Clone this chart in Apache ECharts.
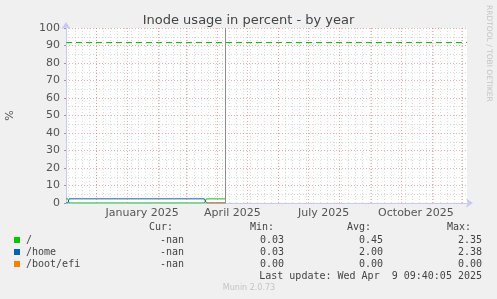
<!DOCTYPE html>
<html><head><meta charset="utf-8">
<script src="https://cdn.jsdelivr.net/npm/echarts@6/dist/echarts.min.js"></script>
<style>html,body{margin:0;padding:0;background:#f0f0f0}#c{width:497px;height:299px}</style>
</head><body><div id="c"></div>
<script>
// ---- data ----
const chartTitle = 'Inode usage in percent - by year';
const seriesNames = ['/', '/home', '/boot/efi'];
const seriesColors = ['#00cc00', '#0066b3', '#ff8000'];
const rootData = [['2024-11-01', 2.35], ['2024-11-03', 2.35], ['2024-11-04', 0.03], ['2025-03-19', 0.03], ['2025-03-21', 2.35], ['2025-04-09', 2.35]];
const homeData = [['2024-11-01', 0.03], ['2024-11-03', 0.03], ['2024-11-04', 2.38], ['2025-03-19', 2.38], ['2025-03-21', 0.03], ['2025-04-09', 0.03]];
const bootData = [['2025-03-21', 0], ['2025-04-09', 0]];
const warningLevel = 92;
const lastUpdateDate = '2025-04-09';
const xMin = '2024-11-01';
const xMax = '2025-12-06';
const yMin = 0, yMax = 100, yStep = 10;
const xTickLabels = [['2025-01-16', 'January 2025'], ['2025-04-16', 'April 2025'], ['2025-07-16', 'July 2025'], ['2025-10-16', 'October 2025']];
const curVals = ['-nan', '-nan', '-nan'];
const minVals = ['0.03', '0.03', '0.00'];
const avgVals = ['0.45', '2.00', '0.00'];
const maxVals = ['2.35', '2.38', '0.00'];
const lastUpdate = 'Last update: Wed Apr  9 09:40:05 2025';
const footer = 'Munin 2.0.73';
const sideText = 'RRDTOOL / TOBI OETIKER';

// ---- helpers ----
function ts(s) { const p = s.split('-').map(Number); return new Date(p[0], p[1] - 1, p[2]).getTime(); }
const conv = arr => arr.map(p => [ts(p[0]), p[1]]);
const tMin = ts(xMin), tMax = ts(xMax);

// grid lines: month starts (red) and Sundays (gray)
const monthLines = [], weekLines = [];
{
  const d = new Date(tMin);
  let m = new Date(d.getFullYear(), d.getMonth(), 1);
  while (m.getTime() <= tMax) {
    if (m.getTime() > tMin) monthLines.push({ xAxis: m.getTime() });
    m = new Date(m.getFullYear(), m.getMonth() + 1, 1);
  }
  let w = new Date(d.getFullYear(), d.getMonth(), d.getDate());
  while (w.getDay() !== 0) w = new Date(w.getFullYear(), w.getMonth(), w.getDate() + 1);
  while (w.getTime() < tMax) {
    weekLines.push({ xAxis: w.getTime() });
    w = new Date(w.getFullYear(), w.getMonth(), w.getDate() + 7);
  }
}
const labelMap = {};
xTickLabels.forEach(p => { labelMap[ts(p[0])] = p[1]; });

const chart = echarts.init(document.getElementById('c'), null, { renderer: 'canvas' });
const mono = 'DejaVu Sans Mono';
const txtColor = '#444';
const legendGraphics = [];
const headerY = 227, rowY = [240, 252, 264], lastY = 276;
[['Cur:', 149], ['Min:', 250], ['Avg:', 347], ['Max:', 447]].forEach(h => {
  legendGraphics.push({ type: 'text', x: h[1], y: headerY, style: { text: h[0], font: '10px ' + mono, fill: txtColor, textVerticalAlign: 'middle' } });
});
seriesNames.forEach((n, i) => {
  legendGraphics.push({ type: 'rect', shape: { x: 14, y: rowY[i] - 3, width: 6, height: 6 }, style: { fill: seriesColors[i] } });
  legendGraphics.push({ type: 'text', x: 26, y: rowY[i], style: { text: n, font: '10px ' + mono, fill: txtColor, textVerticalAlign: 'middle' } });
  [[curVals, 184], [minVals, 284], [avgVals, 383], [maxVals, 482]].forEach(c => {
    legendGraphics.push({ type: 'text', x: c[1], y: rowY[i], style: { text: c[0][i], font: '10px ' + mono, fill: txtColor, textAlign: 'right', textVerticalAlign: 'middle' } });
  });
});
legendGraphics.push({ type: 'text', x: 482, y: lastY, style: { text: lastUpdate, font: '10px ' + mono, fill: txtColor, textAlign: 'right', textVerticalAlign: 'middle' } });
legendGraphics.push({ type: 'text', x: 249, y: 288, style: { text: footer, font: '8px DejaVu Sans', fill: '#c4c4c4', textAlign: 'center', textVerticalAlign: 'middle' } });
legendGraphics.push({ type: 'text', x: 489, y: 5, rotation: -Math.PI / 2, style: { text: sideText, font: '7.5px DejaVu Sans', fill: '#c4c4c4', textAlign: 'left', textVerticalAlign: 'middle' } });

const dotRed = { color: 'rgba(235,100,100,0.55)', width: 1, type: [1, 2] };
const dotGray = { color: 'rgba(185,185,185,0.5)', width: 1, type: [1, 2] };

chart.setOption({
  backgroundColor: '#f0f0f0',
  animation: false,
  title: { text: chartTitle, left: 'center', top: 9, textStyle: { fontSize: 13, fontWeight: 'normal', color: '#444', fontFamily: 'DejaVu Sans' } },
  grid: { left: 66, right: 30, top: 28, bottom: 96, show: true, backgroundColor: '#ffffff', borderWidth: 0, containLabel: false, outerBoundsMode: 'none' },
  xAxis: {
    type: 'value', min: tMin, max: tMax,
    axisLine: { show: true, lineStyle: { color: '#c8c8f4', width: 1 }, symbol: ['none', 'arrow'], symbolSize: [7, 7], symbolOffset: [0, 6] },
    axisTick: { show: false },
    splitLine: { show: false },
    axisLabel: {
      customValues: xTickLabels.map(p => ts(p[0])),
      formatter: v => labelMap[v] || '',
      color: '#555', fontSize: 11, fontFamily: 'DejaVu Sans', margin: 5, hideOverlap: false
    }
  },
  yAxis: {
    type: 'value', min: yMin, max: yMax, interval: yStep,
    name: '%', nameLocation: 'middle', nameGap: 50, nameRotate: 90,
    nameTextStyle: { color: '#555', fontSize: 11, fontFamily: 'DejaVu Sans' },
    axisLine: { show: true, lineStyle: { color: '#c8c8f4', width: 1 }, symbol: ['none', 'arrow'], symbolSize: [7, 7], symbolOffset: [0, 6] },
    axisTick: { show: true, length: 2, lineStyle: { color: '#999' } },
    axisLabel: { color: '#555', fontSize: 11, fontFamily: 'DejaVu Sans', margin: 6 },
    splitLine: { show: true, lineStyle: dotRed },
    minorTick: { show: false, splitNumber: 2 },
    minorSplitLine: { show: true, lineStyle: dotGray }
  },
  graphic: legendGraphics,
  series: [
    {
      name: 'gridlines', type: 'line', data: [[tMin, null]], z: 1, silent: true, showSymbol: false,
      markLine: {
        silent: true, symbol: ['none', 'none'], label: { show: false }, animation: false,
        data: weekLines.map(l => Object.assign({ lineStyle: dotGray }, l))
          .concat(monthLines.map(l => Object.assign({ lineStyle: dotRed }, l)))
          .concat([{ xAxis: ts(lastUpdateDate), lineStyle: { color: '#8c8c8c', width: 1, type: 'solid' } }])
      }
    },
    {
      name: 'warning', type: 'line', data: [[tMin, null]], z: 2, silent: true, showSymbol: false,
      markLine: {
        silent: true, symbol: ['none', 'none'], label: { show: false }, animation: false,
        data: [{ yAxis: warningLevel, lineStyle: { color: seriesColors[0], width: 1, type: [6, 4] } }]
      }
    },
    { name: seriesNames[0], type: 'line', data: conv(rootData), z: 3, showSymbol: false, lineStyle: { color: seriesColors[0], width: 1 }, itemStyle: { color: seriesColors[0] } },
    { name: seriesNames[1], type: 'line', data: conv(homeData), z: 4, showSymbol: false, lineStyle: { color: seriesColors[1], width: 1 }, itemStyle: { color: seriesColors[1] } },
    { name: seriesNames[2], type: 'line', data: conv(bootData), z: 5, showSymbol: false, lineStyle: { color: seriesColors[2], width: 1 }, itemStyle: { color: seriesColors[2] } }
  ]
});
</script></body></html>
